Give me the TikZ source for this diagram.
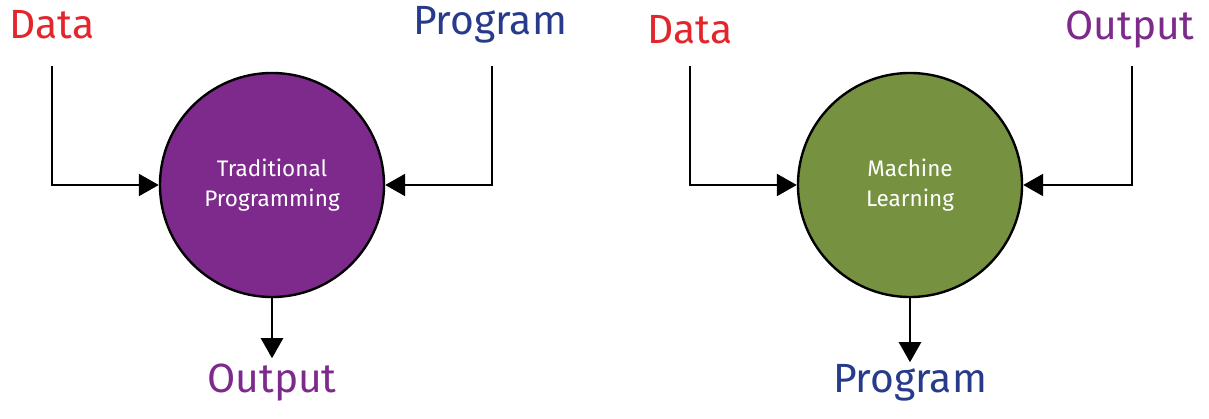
\documentclass[tikz,border=0pt]{standalone}
\usepackage{fontspec}
\setmainfont{Fira Sans}
\usetikzlibrary{arrows.meta}
\definecolor{cred}{RGB}{226,38,44}
\definecolor{cblue}{RGB}{40,58,138}
\definecolor{cpurple}{RGB}{125,42,140}
\definecolor{cgreen}{RGB}{118,146,64}
\begin{document}
\begin{tikzpicture}[x=0.025cm,y=-0.025cm,
  lbl/.style={font=\fontsize{29}{34}\selectfont, inner sep=0pt},
  circ/.style={circle, draw=black, line width=1.7pt, minimum size=5.6cm, text=white, align=center, font=\fontsize{16}{21}\selectfont},
  conn/.style={line width=1.7pt, -{Triangle[length=0.5cm,width=0.55cm]}}]
\useasboundingbox (0,0) rectangle (1209,419);
\node[circ, fill=cpurple] (tp) at (272,185) {Traditional\\Programming};
\node[circ, fill=cgreen] (ml) at (910,185) {Machine\\Learning};
\node[lbl, text=cred] (d1) at (52,25) {Data};
\node[lbl, text=cblue] (p1) at (490,25) {Program};
\node[lbl, text=cpurple] (o1) at (272,383) {Output};
\node[lbl, text=cred] (d2) at (690,30) {Data};
\node[lbl, text=cpurple] (o2) at (1130,30) {Output};
\node[lbl, text=cblue] (p2) at (910,383) {Program};
\coordinate (d1s) at (52,66); \coordinate (p1s) at (492,66);
\coordinate (d2s) at (690,66); \coordinate (o2s) at (1132,66);
\draw[conn] (d1s) |- (tp.west);
\draw[conn] (p1s) |- (tp.east);
\draw[conn] (tp.south) -- ++(0,60);
\draw[conn] (d2s) |- (ml.west);
\draw[conn] (o2s) |- (ml.east);
\draw[conn] (ml.south) -- ++(0,64);
\end{tikzpicture}
\end{document}
